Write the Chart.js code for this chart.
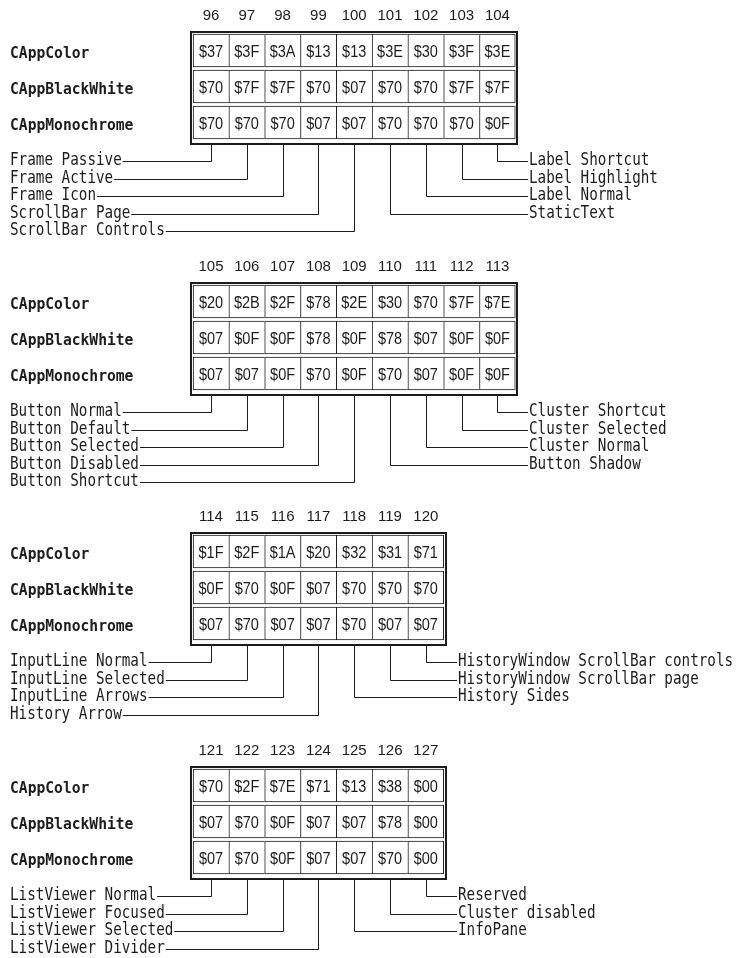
<!DOCTYPE html>
<html lang="en">
<head>
  <meta charset="UTF-8">
  <title>Application palette</title>
  <style>
    body { margin: 0; background: white; }
    #wrap { width: 750px; height: 958px; }
  </style>
</head>
<body>
  <div id="wrap"><canvas id="pal" width="750" height="958"></canvas></div>

  <script src="https://cdn.jsdelivr.net/npm/chart.js"></script>
  <script>
    // palette rows
    const rowNames = ['CAppColor', 'CAppBlackWhite', 'CAppMonochrome'];

    // block 1: 96..104
    const idx1 = [96, 97, 98, 99, 100, 101, 102, 103, 104];
    const color1 = ['$37', '$3F', '$3A', '$13', '$13', '$3E', '$30', '$3F', '$3E'];
    const bw1 = ['$70', '$7F', '$7F', '$70', '$07', '$70', '$70', '$7F', '$7F'];
    const mono1 = ['$70', '$70', '$70', '$07', '$07', '$70', '$70', '$70', '$0F'];
    const left1 = ['Frame Passive', 'Frame Active', 'Frame Icon', 'ScrollBar Page', 'ScrollBar Controls'];
    const right1 = ['Label Shortcut', 'Label Highlight', 'Label Normal', 'StaticText'];

    // block 2: 105..113
    const idx2 = [105, 106, 107, 108, 109, 110, 111, 112, 113];
    const color2 = ['$20', '$2B', '$2F', '$78', '$2E', '$30', '$70', '$7F', '$7E'];
    const bw2 = ['$07', '$0F', '$0F', '$78', '$0F', '$78', '$07', '$0F', '$0F'];
    const mono2 = ['$07', '$07', '$0F', '$70', '$0F', '$70', '$07', '$0F', '$0F'];
    const left2 = ['Button Normal', 'Button Default', 'Button Selected', 'Button Disabled', 'Button Shortcut'];
    const right2 = ['Cluster Shortcut', 'Cluster Selected', 'Cluster Normal', 'Button Shadow'];

    // block 3: 114..120
    const idx3 = [114, 115, 116, 117, 118, 119, 120];
    const color3 = ['$1F', '$2F', '$1A', '$20', '$32', '$31', '$71'];
    const bw3 = ['$0F', '$70', '$0F', '$07', '$70', '$70', '$70'];
    const mono3 = ['$07', '$70', '$07', '$07', '$70', '$07', '$07'];
    const left3 = ['InputLine Normal', 'InputLine Selected', 'InputLine Arrows', 'History Arrow'];
    const right3 = ['HistoryWindow ScrollBar controls', 'HistoryWindow ScrollBar page', 'History Sides'];

    // block 4: 121..127
    const idx4 = [121, 122, 123, 124, 125, 126, 127];
    const color4 = ['$70', '$2F', '$7E', '$71', '$13', '$38', '$00'];
    const bw4 = ['$07', '$70', '$0F', '$07', '$07', '$78', '$00'];
    const mono4 = ['$07', '$70', '$0F', '$07', '$07', '$70', '$00'];
    const left4 = ['ListViewer Normal', 'ListViewer Focused', 'ListViewer Selected', 'ListViewer Divider'];
    const right4 = ['Reserved', 'Cluster disabled', 'InfoPane'];

    // layout (y values are in page units of the y scale)
    const blockTops = [31, 282, 532, 766];
    const colW = 35.8, col0X = 211;
    const rowPitch = 36, rowH = 33, frameH = 114;
    const labelTop = 130, labelPitch = 17.6, labelLeft = 10;
    const ink = '#1c1c1c';

    const blocks = [
      { idx: idx1, rows: [color1, bw1, mono1], left: left1, right: right1 },
      { idx: idx2, rows: [color2, bw2, mono2], left: left2, right: right2 },
      { idx: idx3, rows: [color3, bw3, mono3], left: left3, right: right3 },
      { idx: idx4, rows: [color4, bw4, mono4], left: left4, right: right4 }
    ];
    blocks.forEach((b, i) => b.top = blockTops[i]);

    // one floating bar per cell
    const datasets = [];
    blocks.forEach(b => {
      b.rows.forEach((vals, r) => {
        const y0 = b.top + 3 + r * rowPitch;
        datasets.push({
          codes: vals,
          data: vals.map((v, i) => ({ x: i, y: [y0, y0 + rowH] })),
          backgroundColor: '#fff',
          borderColor: ink,
          borderSkipped: false,
          borderWidth: ctx => ({ top: 1, bottom: 1, left: 1, right: ctx.dataIndex === vals.length - 1 ? 1 : 0 }),
          grouped: false,
          barPercentage: 1,
          categoryPercentage: 1
        });
      });
    });

    function txt(ctx, s, x, y, font, align, sx) {
      ctx.save();
      ctx.font = font;
      ctx.translate(x, y);
      ctx.scale(sx, 1);
      ctx.textAlign = align;
      ctx.textBaseline = 'alphabetic';
      ctx.fillStyle = ink;
      ctx.fillText(s, 0, 0);
      const w = ctx.measureText(s).width * sx;
      ctx.restore();
      return w;
    }

    const legendFont = '17px "DejaVu Sans Mono"';
    const rowFont = 'bold 16px "DejaVu Sans Mono"';
    const cellFont = '16.5px "Liberation Sans"';
    const headFont = '15px "Liberation Sans"';

    const palettePlugin = {
      id: 'palette',
      afterDatasetsDraw(chart) {
        const ctx = chart.ctx;
        const xs = chart.scales.x, ys = chart.scales.y;
        ctx.save();
        ctx.strokeStyle = ink;

        blocks.forEach(b => {
          const n = b.idx.length;
          const fl = Math.round(xs.getPixelForValue(-0.5)) - 3;
          const fr = Math.round(xs.getPixelForValue(n - 0.5)) + 3;
          const ft = Math.round(ys.getPixelForValue(b.top));
          const fb = Math.round(ys.getPixelForValue(b.top + frameH));

          // outer frame
          ctx.lineWidth = 2;
          ctx.strokeRect(fl + 1, ft + 1, fr - fl - 2, fb - ft - 2);

          // column numbers
          b.idx.forEach((v, i) => {
            txt(ctx, String(v), xs.getPixelForValue(i), ys.getPixelForValue(b.top - 11.5), headFont, 'center', 1);
          });

          // row names and cell values
          b.rows.forEach((vals, r) => {
            const cy = b.top + 3 + r * rowPitch + rowH / 2;
            txt(ctx, rowNames[r], labelLeft, ys.getPixelForValue(cy + 7.5), rowFont, 'left', 0.915);
            vals.forEach((v, i) => {
              txt(ctx, v, xs.getPixelForValue(i), ys.getPixelForValue(cy + 6), cellFont, 'center', 0.88);
            });
          });

          // leader lines
          ctx.lineWidth = 1;
          b.left.forEach((lab, k) => {
            const ly = Math.round(ys.getPixelForValue(b.top + labelTop + k * labelPitch)) + 0.5;
            const cx = Math.round(xs.getPixelForValue(k)) + 0.5;
            const w = txt(ctx, lab, labelLeft, ly + 3, legendFont, 'left', 0.84);
            ctx.beginPath();
            ctx.moveTo(cx, fb);
            ctx.lineTo(cx, ly);
            ctx.lineTo(labelLeft + w + 1, ly);
            ctx.stroke();
          });
          const rx = fr + 11;
          b.right.forEach((lab, k) => {
            const ly = Math.round(ys.getPixelForValue(b.top + labelTop + k * labelPitch)) + 0.5;
            const cx = Math.round(xs.getPixelForValue(n - 1 - k)) + 0.5;
            txt(ctx, lab, rx, ly + 3, legendFont, 'left', 0.84);
            ctx.beginPath();
            ctx.moveTo(cx, fb);
            ctx.lineTo(cx, ly);
            ctx.lineTo(rx - 1, ly);
            ctx.stroke();
          });
        });
        ctx.restore();
      }
    };

    new Chart(document.getElementById('pal'), {
      type: 'bar',
      data: { datasets: datasets },
      options: {
        responsive: false,
        animation: false,
        devicePixelRatio: 1,
        events: [],
        layout: { padding: 0 },
        plugins: { legend: { display: false }, tooltip: { enabled: false } },
        scales: {
          x: { type: 'linear', display: false, offset: false, min: -col0X / colW, max: (750 - col0X) / colW, ticks: { stepSize: 100 } },
          y: { type: 'linear', display: false, offset: false, min: 0, max: 958, reverse: true, ticks: { stepSize: 1000 } }
        }
      },
      plugins: [palettePlugin]
    });
  </script>
</body>
</html>
